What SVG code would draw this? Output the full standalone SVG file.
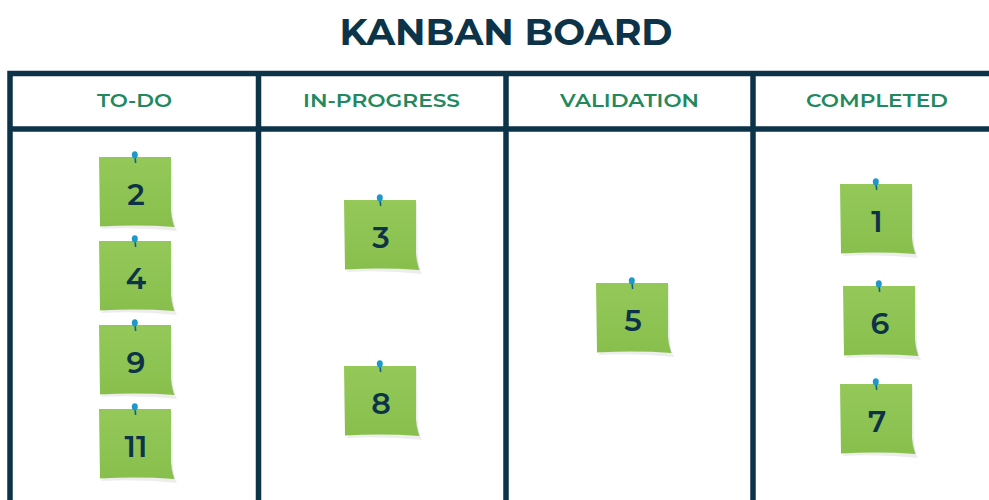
<svg xmlns="http://www.w3.org/2000/svg" xmlns:xlink="http://www.w3.org/1999/xlink" width="989" height="500" viewBox="0 0 989 500">
<defs>
<linearGradient id="ng" x1="0" y1="0" x2="0" y2="1">
<stop offset="0" stop-color="#94c95a"/>
<stop offset="1" stop-color="#88bf4c"/>
</linearGradient>
<g id="note">
<path d="M2,72 Q40,70 78,74 Q74,66 74,56 L73,2 Z" fill="#000" opacity="0.07"/>
<path d="M0,0 L72,0 L72,54 Q72.5,64 75.5,70 Q40,67.5 1,69.5 Z" fill="url(#ng)"/>
<path d="M72,54 Q72.5,64 75.5,70 Q73,62 72,54 Z" fill="#6ea63a" opacity="0.6"/>
<line x1="36" y1="-2" x2="36.6" y2="6" stroke="#0f5f86" stroke-width="1.6"/>
<ellipse cx="35.8" cy="-2.2" rx="3" ry="3.6" fill="#1e97c9"/>
</g>
<style>
.title{font-family:"Montserrat","Open Sans","Liberation Sans",sans-serif;font-weight:700;fill:#0d3349;}
.hdr{font-family:"Montserrat","Open Sans","Liberation Sans",sans-serif;font-weight:600;font-size:19px;fill:#22885e;text-anchor:middle;}
.num{font-family:"Montserrat","Open Sans","Liberation Sans",sans-serif;font-weight:600;font-size:30px;fill:#0d3349;text-anchor:middle;}
.ln{stroke:#0d3349;stroke-width:5.5;fill:none;}
</style>
</defs>
<rect width="989" height="500" fill="#ffffff"/>
<text class="title" x="506" y="44.5" font-size="36" text-anchor="middle" textLength="333" lengthAdjust="spacingAndGlyphs">KANBAN BOARD</text>
<g id="board">
<path class="ln" d="M10,503 V73.5 H992"/>
<line class="ln" x1="10" y1="129" x2="992" y2="129"/>
<line class="ln" x1="258.5" y1="73" x2="258.5" y2="503"/>
<line class="ln" x1="506" y1="73" x2="506" y2="503"/>
<line class="ln" x1="753" y1="73" x2="753" y2="503"/>
</g>
<g id="headers">
<text class="hdr" x="134.5" y="107" textLength="75" lengthAdjust="spacingAndGlyphs">TO-DO</text>
<text class="hdr" x="381.5" y="107" textLength="157" lengthAdjust="spacingAndGlyphs">IN-PROGRESS</text>
<text class="hdr" x="629.5" y="107" textLength="139" lengthAdjust="spacingAndGlyphs">VALIDATION</text>
<text class="hdr" x="877" y="107" textLength="142" lengthAdjust="spacingAndGlyphs">COMPLETED</text>
</g>
<g id="note-2" transform="translate(99,157)"><use xlink:href="#note"/><text class="num" x="37" y="48">2</text></g>
<g id="note-4" transform="translate(99,241)"><use xlink:href="#note"/><text class="num" x="37" y="48">4</text></g>
<g id="note-9" transform="translate(99,325)"><use xlink:href="#note"/><text class="num" x="37" y="48">9</text></g>
<g id="note-11" transform="translate(99,409)"><use xlink:href="#note"/><text class="num" x="37" y="48">11</text></g>
<g id="note-3" transform="translate(344,200)"><use xlink:href="#note"/><text class="num" x="37" y="48">3</text></g>
<g id="note-8" transform="translate(344,366)"><use xlink:href="#note"/><text class="num" x="37" y="48">8</text></g>
<g id="note-5" transform="translate(596,283)"><use xlink:href="#note"/><text class="num" x="37" y="48">5</text></g>
<g id="note-1" transform="translate(840,184)"><use xlink:href="#note"/><text class="num" x="37" y="48">1</text></g>
<g id="note-6" transform="translate(843,286)"><use xlink:href="#note"/><text class="num" x="37" y="48">6</text></g>
<g id="note-7" transform="translate(840,384)"><use xlink:href="#note"/><text class="num" x="37" y="48">7</text></g>
<g id="connectors"/>
</svg>
